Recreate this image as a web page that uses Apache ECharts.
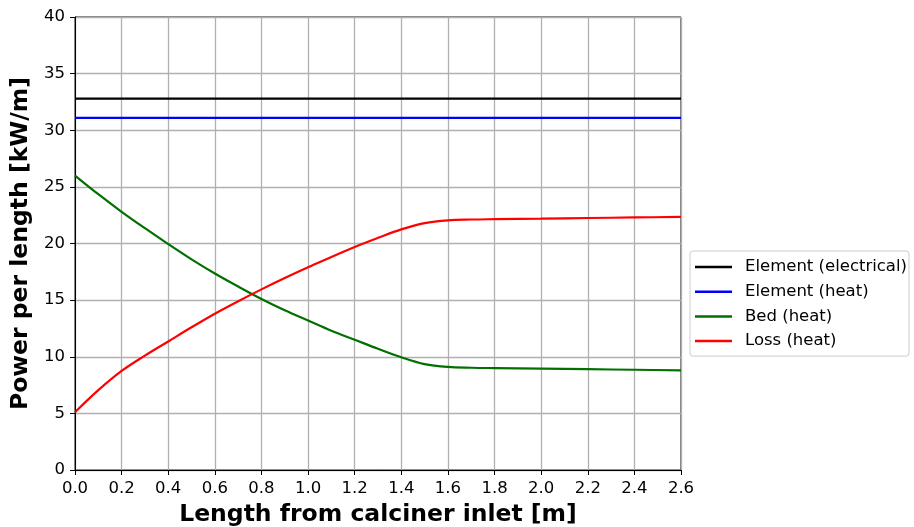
<!DOCTYPE html>
<html><head><meta charset="utf-8">
<script src="https://cdn.jsdelivr.net/npm/echarts@6/dist/echarts.min.js"></script>
<style>html,body{margin:0;padding:0;background:#fff}#c{width:914px;height:527px}</style>
</head><body><div id="c"></div>
<script>
const xs = [0,0.1,0.2,0.3,0.4,0.5,0.6,0.7,0.8,0.9,1.0,1.1,1.2,1.3,1.4,1.5,1.6,1.7,1.8,2.0,2.2,2.4,2.6];
const elementElectrical = [32.8,32.8,32.8,32.8,32.8,32.8,32.8,32.8,32.8,32.8,32.8,32.8,32.8,32.8,32.8,32.8,32.8,32.8,32.8,32.8,32.8,32.8,32.8];
const elementHeat = [31.1,31.1,31.1,31.1,31.1,31.1,31.1,31.1,31.1,31.1,31.1,31.1,31.1,31.1,31.1,31.1,31.1,31.1,31.1,31.1,31.1,31.1,31.1];
const bedHeat = [26.0,24.35,22.8,21.35,19.95,18.6,17.35,16.2,15.1,14.1,13.2,12.3,11.5,10.7,9.95,9.35,9.1,9.03,9.0,8.95,8.9,8.85,8.8];
const lossHeat = [5.1,7.05,8.75,10.1,11.35,12.6,13.8,14.9,15.95,16.95,17.9,18.8,19.7,20.5,21.25,21.8,22.05,22.12,22.15,22.2,22.25,22.3,22.35];
const seriesNames = ['Element (electrical)','Element (heat)','Bed (heat)','Loss (heat)'];
const seriesColors = ['#000000','#0000ff','#007000','#ff0000'];
const seriesData = [elementElectrical, elementHeat, bedHeat, lossHeat];

const font = 'DejaVu Sans';
const chart = echarts.init(document.getElementById('c'), null, {renderer:'canvas'});
chart.setOption({
  animation:false,
  grid:{left:75,right:233,top:17,bottom:57,show:true,borderColor:'#000',borderWidth:1,
        containLabel:false,outerBoundsMode:'none'},
  xAxis:{type:'value',min:0,max:2.6,interval:0.2,
    name:'Length from calciner inlet [m]',nameLocation:'middle',nameGap:33,
    nameTextStyle:{fontFamily:font,fontSize:23.5,fontWeight:'bold',color:'#000'},
    axisLine:{lineStyle:{color:'#000',width:1}},
    axisTick:{show:true,length:5,lineStyle:{color:'#000'}},
    axisLabel:{fontFamily:font,fontSize:16.5,color:'#000',margin:10,formatter:v=>v.toFixed(1)},
    splitLine:{show:true,lineStyle:{color:'#b0b0b0',width:1.3}}},
  yAxis:{type:'value',min:0,max:40,interval:5,
    name:'Power per length [kW/m]',nameLocation:'middle',nameGap:42,
    nameTextStyle:{fontFamily:font,fontSize:23.5,fontWeight:'bold',color:'#000'},
    axisLine:{show:true,lineStyle:{color:'#000',width:1}},
    axisTick:{show:true,length:5,lineStyle:{color:'#000'}},
    axisLabel:{fontFamily:font,fontSize:16.5,color:'#000',margin:10},
    splitLine:{show:true,lineStyle:{color:'#b0b0b0',width:1.3}}},
  legend:{left:690,top:251,orient:'vertical',
    data:seriesNames.map((n,i)=>({name:n,icon:'rect',itemStyle:{color:seriesColors[i]}})),
    itemWidth:37,itemHeight:2.5,itemGap:6.7,
    padding:[7,2,6,5],borderColor:'#cccccc',borderWidth:1,borderRadius:3,
    textStyle:{fontFamily:font,fontSize:16.5,color:'#000',lineHeight:18,padding:[0,0,0,8]}},
  series:seriesData.map((d,i)=>({
    name:seriesNames[i],type:'line',showSymbol:false,smooth:0.35,
    data:xs.map((x,j)=>[x,d[j]]),
    lineStyle:{color:seriesColors[i],width:2.2},
    itemStyle:{color:seriesColors[i]}
  }))
});
</script></body></html>
